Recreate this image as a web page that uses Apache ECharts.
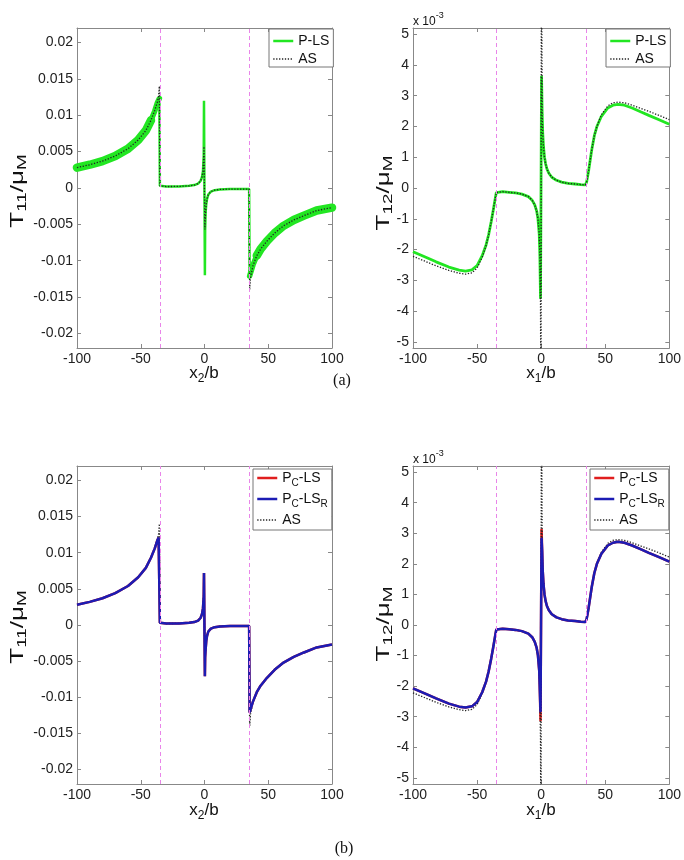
<!DOCTYPE html>
<html>
<head>
<meta charset="utf-8">
<title>T11 / T12</title>
<script src="https://cdn.jsdelivr.net/npm/echarts@6/dist/echarts.min.js"></script>
<style>
    html, body { margin: 0; padding: 0; background: #fff; }
    #main { width: 684px; height: 860px; }
</style>
</head>
<body>
<div id="main"></div>
<script>
    // T11 curves, x2/b positions
    var t11X = [-100, -90, -80, -70, -60, -52, -46, -42, -39, -37, -36, -35.4, -35, -30, -20, -12, -8, -5, -3, -2, -1.2, -0.6, -0.4,
        0.3, 0.5, 0.9, 1.4, 2, 3, 5, 8, 12, 20, 30, 35, 35.4, 36, 38, 41, 44, 49, 55, 62, 70, 78, 88, 100];
    var t11PLS = [0.0028, 0.0032, 0.0037, 0.0044, 0.0054, 0.0066, 0.0079, 0.0093, 0.0106, 0.0117, 0.0121, 0.0123, 0.0003, 0.0002, 0.00022,
        0.0003, 0.0004, 0.0006, 0.001, 0.0015, 0.0023, 0.0045, 0.012, -0.012, -0.0058, -0.0033, -0.0022, -0.0015, -0.0009, -0.0005,
        -0.0003, -0.0002, -0.00015, -0.00015, -0.00015, -0.0121, -0.0119, -0.0106, -0.0093, -0.0084, -0.0073, -0.0062, -0.0052,
        -0.0044, -0.0038, -0.0031, -0.0027];
    var t11AS = [0.0028, 0.0032, 0.0037, 0.0044, 0.0054, 0.0066, 0.0079, 0.0093, 0.0107, 0.0118, 0.0126, 0.014, 0.0003, 0.0002, 0.00022,
        0.0003, 0.0004, 0.0006, 0.001, 0.0015, 0.0023, 0.0045, 0.0057, -0.0057, -0.0045, -0.0033, -0.0022, -0.0015, -0.0009, -0.0005,
        -0.0003, -0.0002, -0.00015, -0.00015, -0.00015, -0.014, -0.0124, -0.0107, -0.0093, -0.0084, -0.0073, -0.0062, -0.0052,
        -0.0044, -0.0038, -0.0031, -0.0027];
    var t11PCLS = [0.0028, 0.0032, 0.0037, 0.0044, 0.0054, 0.0066, 0.0079, 0.0093, 0.0106, 0.0117, 0.0121, 0.0123, 0.0003, 0.0002, 0.00022,
        0.0003, 0.0004, 0.0006, 0.001, 0.0015, 0.0023, 0.004, 0.0072, -0.0071, -0.0045, -0.0033, -0.0022, -0.0015, -0.0009, -0.0005,
        -0.0003, -0.0002, -0.00015, -0.00015, -0.00015, -0.0121, -0.0119, -0.0106, -0.0093, -0.0084, -0.0073, -0.0062, -0.0052,
        -0.0044, -0.0038, -0.0031, -0.0027];
    var t11PCLSR = [0.0028, 0.0032, 0.0037, 0.0044, 0.0054, 0.0066, 0.0079, 0.0093, 0.0106, 0.0117, 0.0121, 0.0123, 0.0003, 0.0002, 0.00022,
        0.0003, 0.0004, 0.0006, 0.001, 0.0015, 0.0023, 0.004, 0.0072, -0.0071, -0.0045, -0.0033, -0.0022, -0.0015, -0.0009, -0.0005,
        -0.0003, -0.0002, -0.00015, -0.00015, -0.00015, -0.0121, -0.0119, -0.0106, -0.0093, -0.0084, -0.0073, -0.0062, -0.0052,
        -0.0044, -0.0038, -0.0031, -0.0027];

    // T12 curves (x 10^-3), x1/b positions
    var t12X = [-100, -90, -82, -72, -64, -59, -54, -50, -46, -43, -41, -39, -37.5, -36, -35, -34, -30, -25, -20, -15, -10, -7, -5, -3.5,
        -2.5, -1.5, -1, -0.5, -0.15, 0.15, 0.3, 0.8, 1.2, 1.8, 2.6, 3.5, 4.5, 6, 8.3, 12, 16, 21, 26.5, 31, 34.5, 35.5, 37, 39.5, 41.5,
        43.5, 47, 52, 56, 60, 65, 71, 78, 84, 92, 100];
    var t12PLS = [-2.07, -2.25, -2.4, -2.57, -2.67, -2.7, -2.66, -2.52, -2.2, -1.85, -1.52, -1.1, -0.75, -0.38, -0.15, -0.11, -0.12, -0.14,
        -0.16, -0.2, -0.28, -0.4, -0.55, -0.75, -1.0, -1.5, -2.2, -3.6, null, null, 3.65, 2.4, 1.8, 1.35, 1.0, 0.78, 0.62, 0.48, 0.35,
        0.25, 0.19, 0.15, 0.13, 0.11, 0.1, 0.2, 0.55, 1.25, 1.7, 2.0, 2.33, 2.6, 2.69, 2.72, 2.69, 2.6, 2.47, 2.36, 2.22, 2.07];
    var t12AS = [-2.22, -2.39, -2.53, -2.68, -2.77, -2.8, -2.76, -2.6, -2.25, -1.87, -1.53, -1.1, -0.75, -0.38, -0.15, -0.11, -0.12, -0.14,
        -0.16, -0.2, -0.28, -0.4, -0.55, -0.75, -1.0, -1.5, -2.2, -3.8, -9, 9, null, 2.4, 1.8, 1.35, 1.0, 0.78, 0.62, 0.48, 0.35,
        0.25, 0.19, 0.15, 0.13, 0.11, 0.1, 0.2, 0.55, 1.25, 1.7, 2.0, 2.38, 2.67, 2.77, 2.79, 2.77, 2.69, 2.58, 2.49, 2.36, 2.22];
    var t12PCLS = [-2.07, -2.25, -2.4, -2.57, -2.67, -2.7, -2.66, -2.52, -2.2, -1.85, -1.52, -1.1, -0.75, -0.38, -0.15, -0.11, -0.12, -0.14,
        -0.16, -0.2, -0.28, -0.4, -0.55, -0.75, -1.0, -1.5, -2.2, -3.15, null, null, 3.15, 2.4, 1.8, 1.35, 1.0, 0.78, 0.62, 0.48, 0.35,
        0.25, 0.19, 0.15, 0.13, 0.11, 0.1, 0.2, 0.55, 1.25, 1.7, 2.0, 2.33, 2.6, 2.69, 2.72, 2.69, 2.6, 2.47, 2.36, 2.22, 2.07];
    var t12PCLSR = [-2.07, -2.25, -2.4, -2.57, -2.67, -2.7, -2.66, -2.52, -2.2, -1.85, -1.52, -1.1, -0.75, -0.38, -0.15, -0.11, -0.12, -0.14,
        -0.16, -0.2, -0.28, -0.4, -0.55, -0.75, -1.0, -1.5, -2.2, -2.85, null, null, 2.85, 2.4, 1.8, 1.35, 1.0, 0.78, 0.62, 0.48, 0.35,
        0.25, 0.19, 0.15, 0.13, 0.11, 0.1, 0.2, 0.55, 1.25, 1.7, 2.0, 2.33, 2.6, 2.69, 2.72, 2.69, 2.6, 2.47, 2.36, 2.22, 2.07];

    var t11Ticks = [-0.02, -0.015, -0.01, -0.005, 0, 0.005, 0.01, 0.015, 0.02];
    var t12Ticks = [-5, -4, -3, -2, -1, 0, 1, 2, 3, 4, 5];
    var interfaceX = [-35, 35];

    var FONT = 'Liberation Sans, Arial, sans-serif';
    var GREEN = '#22e622', BLUE = '#1c1cb4', RED = '#e01e1e', PINK = '#e985e9', BOX = '#888';

    function pts(xs, ys, from, to) {
        var out = [];
        for (var i = from; i <= to; i++) out.push([xs[i], ys[i]]);
        return out;
    }

    var grids = [
        { left: 77, top: 28, width: 255, height: 320 },
        { left: 413, top: 28, width: 257, height: 320 },
        { left: 77, top: 466, width: 255, height: 318 },
        { left: 413, top: 466, width: 257, height: 318 }
    ];

    var xAxes = [], yAxes = [];
    grids.forEach(function (g, i) {
        var lim = (i % 2 === 0) ? 0.022 : 5.2;
        var ticks = (i % 2 === 0) ? t11Ticks : t12Ticks;
        ['bottom', 'top'].forEach(function (pos) {
            xAxes.push({
                type: 'value', gridIndex: i, position: pos, min: -100, max: 100, interval: 50,
                axisLine: { show: true, onZero: false, lineStyle: { color: BOX, width: 1 } },
                axisTick: { show: true, inside: true, length: 4, lineStyle: { color: BOX } },
                axisLabel: { show: pos === 'bottom', margin: 4, fontSize: 14, fontFamily: FONT, color: '#222',
                    showMinLabel: true, showMaxLabel: true },
                splitLine: { show: false }
            });
        });
        ['left', 'right'].forEach(function (pos) {
            yAxes.push({
                type: 'value', gridIndex: i, position: pos, min: -lim, max: lim,
                axisLine: { show: true, onZero: false, lineStyle: { color: BOX, width: 1 } },
                axisTick: { show: true, inside: true, length: 4, customValues: ticks, lineStyle: { color: BOX } },
                axisLabel: { show: pos === 'left', customValues: ticks, margin: 4, fontSize: 14, fontFamily: FONT, color: '#222',
                    formatter: function (v) { return String(+(+v).toFixed(4)); } },
                splitLine: { show: false }
            });
        });
    });

    function line(name, g, data, color, width, extra) {
        var s = {
            name: name, type: 'line', xAxisIndex: 2 * g, yAxisIndex: 2 * g, data: data,
            symbol: 'none', showSymbol: false, connectNulls: true, animation: false, silent: true,
            lineStyle: { color: color, width: width },
            itemStyle: { color: color }
        };
        if (extra) for (var k in extra) s[k] = extra[k];
        return s;
    }

    var dotted = { color: '#222', width: 1.3, type: [1.3, 1.6] };
    var interfaces = {
        silent: true, symbol: ['none', 'none'], label: { show: false },
        lineStyle: { color: PINK, width: 1, type: [4, 3] },
        data: interfaceX.map(function (v) { return { xAxis: v }; })
    };
    function asSeries(g, xs, ys) {
        return line('AS', g, pts(xs, ys, 0, xs.length - 1), '#222', 1.3,
            { lineStyle: dotted, markLine: interfaces });
    }

    var series = [];
    // (a) left: P-LS, thick band on the tails
    series.push(line('P-LS', 0, pts(t11X, t11PLS, 11, 35), GREEN, 2.5));
    series.push(line('P-LS', 0, pts(t11X, t11PLS, 0, 7), GREEN, 8.5, { lineStyle: { color: GREEN, width: 8.5, cap: 'round' } }));
    series.push(line('P-LS', 0, pts(t11X, t11PLS, 7, 11), GREEN, 5.5, { lineStyle: { color: GREEN, width: 5.5, cap: 'round' } }));
    series.push(line('P-LS', 0, pts(t11X, t11PLS, 35, 38), GREEN, 5.5, { lineStyle: { color: GREEN, width: 5.5, cap: 'round' } }));
    series.push(line('P-LS', 0, pts(t11X, t11PLS, 38, 46), GREEN, 8.5, { lineStyle: { color: GREEN, width: 8.5, cap: 'round' } }));
    series.push(asSeries(0, t11X, t11AS));
    // (a) right
    series.push(line('P-LS', 1, pts(t12X, t12PLS, 0, t12X.length - 1), GREEN, 2.8));
    series.push(asSeries(1, t12X, t12AS));
    // (b) left
    series.push(line('PC-LS', 2, pts(t11X, t11PCLS, 0, t11X.length - 1), RED, 2.5));
    series.push(asSeries(2, t11X, t11AS));
    series.push(line('PC-LSR', 2, pts(t11X, t11PCLSR, 0, t11X.length - 1), BLUE, 2.5));
    // (b) right
    series.push(line('PC-LS', 3, pts(t12X, t12PCLS, 0, t12X.length - 1), RED, 2.5));
    series.push(asSeries(3, t12X, t12AS));
    series.push(line('PC-LSR', 3, pts(t12X, t12PCLSR, 0, t12X.length - 1), BLUE, 2.5));

    var legRich = {
        m: { fontSize: 14, fontFamily: FONT, color: '#111', lineHeight: 20 },
        s: { fontSize: 10, fontFamily: FONT, color: '#111', lineHeight: 9, verticalAlign: 'bottom' }
    };
    function legend(left, top, names, padding) {
        return {
            left: left, top: top, orient: 'vertical', data: names, selectedMode: false,
            itemWidth: 20, itemHeight: 12, itemGap: 4, padding: padding,
            borderColor: '#777', borderWidth: 1, borderRadius: 0, backgroundColor: '#fff',
            lineStyle: { width: 'inherit' },
            itemStyle: { opacity: 0, borderWidth: 0 },
            textStyle: { fontSize: 14, fontFamily: FONT, color: '#111', rich: legRich },
            formatter: function (n) {
                if (n === 'PC-LS') return '{m|P}{s|C}{m|-LS}';
                if (n === 'PC-LSR') return '{m|P}{s|C}{m|-LS}{s|R}';
                return n;
            }
        };
    }

    var sub = { fontSize: 12, fontFamily: FONT, fill: '#111', lineHeight: 10, verticalAlign: 'bottom' };
    var xRich = { m: { fontSize: 17, fontFamily: FONT, fill: '#111', lineHeight: 24 }, s: sub };
    var yRich = { m: { fontSize: 18, fontFamily: FONT, fill: '#111', lineHeight: 22 },
        s: { fontSize: 13, fontFamily: FONT, fill: '#111', lineHeight: 10, verticalAlign: 'bottom' } };
    var supRich = { m: { fontSize: 12, fontFamily: FONT, fill: '#111', lineHeight: 22 },
        p: { fontSize: 9, fontFamily: FONT, fill: '#111', lineHeight: 8, verticalAlign: 'top' } };

    function txt(x, y, text, rich, opts) {
        var el = { type: 'text', x: x, y: y, silent: true,
            style: { text: text, rich: rich, align: 'center', verticalAlign: 'middle', fill: '#111' } };
        if (opts) for (var k in opts) el[k] = opts[k];
        return el;
    }
    var graphics = [
        txt(204, 373, '{m|x}{s|2}{m|/b}', xRich),
        txt(541, 373, '{m|x}{s|1}{m|/b}', xRich),
        txt(204, 810, '{m|x}{s|2}{m|/b}', xRich),
        txt(541, 810, '{m|x}{s|1}{m|/b}', xRich),
        txt(18, 191, '{m|T}{s|11}{m|/μ}{s|M}', yRich, { rotation: Math.PI / 2, scaleX: 1.45 }),
        txt(384, 193, '{m|T}{s|12}{m|/μ}{s|M}', yRich, { rotation: Math.PI / 2, scaleX: 1.45 }),
        txt(18, 627, '{m|T}{s|11}{m|/μ}{s|M}', yRich, { rotation: Math.PI / 2, scaleX: 1.45 }),
        txt(384, 624, '{m|T}{s|12}{m|/μ}{s|M}', yRich, { rotation: Math.PI / 2, scaleX: 1.45 }),
        { type: 'text', x: 413, y: 22, silent: true, style: { text: '{m|x 10}{p|-3}', rich: supRich, align: 'left', verticalAlign: 'middle' } },
        { type: 'text', x: 413, y: 460, silent: true, style: { text: '{m|x 10}{p|-3}', rich: supRich, align: 'left', verticalAlign: 'middle' } },
        { type: 'text', x: 342, y: 381, silent: true, style: { text: '(a)', fontSize: 16, fontFamily: 'Liberation Serif, serif', fill: '#111', align: 'center', verticalAlign: 'middle' } },
        { type: 'text', x: 344, y: 849, silent: true, style: { text: '(b)', fontSize: 16, fontFamily: 'Liberation Serif, serif', fill: '#111', align: 'center', verticalAlign: 'middle' } }
    ];

    var chart = echarts.init(document.getElementById('main'));
    chart.setOption({
        backgroundColor: '#fff',
        animation: false,
        grid: grids,
        xAxis: xAxes,
        yAxis: yAxes,
        legend: [
            legend(269, 29, ['P-LS', 'AS'], [5, 4, 1, 3]),
            legend(606, 29, ['P-LS', 'AS'], [5, 4, 1, 3]),
            legend(253, 469, ['PC-LS', 'PC-LSR', 'AS'], [2, 4, 3, 3]),
            legend(590, 469, ['PC-LS', 'PC-LSR', 'AS'], [2, 4, 3, 3])
        ],
        series: series,
        graphic: graphics
    });
</script>
</body>
</html>
